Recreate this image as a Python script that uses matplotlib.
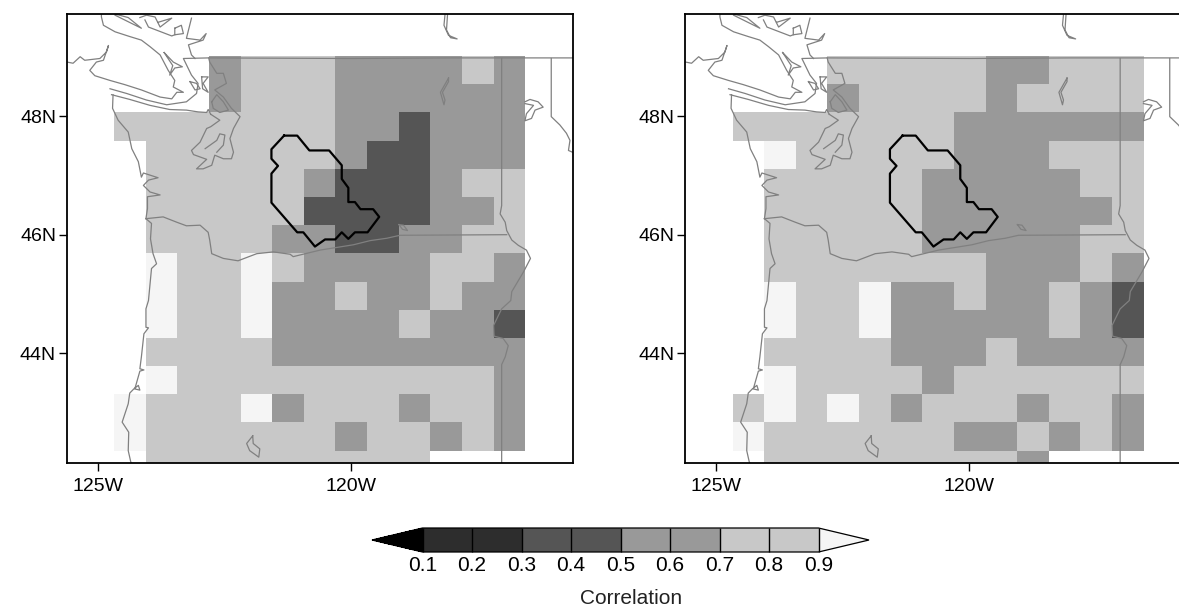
import numpy as np
import matplotlib
matplotlib.use("Agg")
import matplotlib.pyplot as plt
from matplotlib.colors import from_levels_and_colors

plt.rcParams['font.family'] = ['Liberation Sans', 'DejaVu Sans']

n = float('nan')

levels = [0.1, 0.2, 0.3, 0.4, 0.5, 0.6, 0.7, 0.8, 0.9]
shades = ['#000000', '#2d2d2d', '#2d2d2d', '#555555', '#555555', '#999999', '#999999',
          '#c8c8c8', '#c8c8c8', '#f5f5f5']
lon_ticks = [-125, -120]
lon_labels = ['125W', '120W']
lat_ticks = [44, 46, 48]
lat_labels = ['44N', '46N', '48N']

# cell edges of the grid
lon_edges = -124.68 + 0.625*np.arange(14)
lat_edges = 49.01 - 0.475*np.arange(16)

corr_left = [
    [n, n, n, .6, .8, .8, .8, .6, .6, .6, .6, .8, .6],
    [n, n, n, .6, .8, .8, .8, .6, .6, .6, .6, .6, .6],
    [.8, .8, .8, .8, .8, .8, .8, .6, .6, .4, .6, .6, .6],
    [n, .8, .8, .8, .8, .8, .8, .6, .4, .4, .6, .6, .6],
    [n, .8, .8, .8, .8, .8, .6, .4, .4, .4, .6, .8, .8],
    [n, .8, .8, .8, .8, .8, .4, .4, .4, .4, .6, .6, .8],
    [n, .8, .8, .8, .8, .6, .6, .4, .4, .6, .6, .8, .8],
    [n, .95, .8, .8, .95, .8, .6, .6, .6, .6, .8, .8, .6],
    [n, .95, .8, .8, .95, .6, .6, .8, .6, .6, .8, .6, .6],
    [n, .95, .8, .8, .95, .6, .6, .6, .6, .8, .6, .6, .4],
    [n, .8, .8, .8, .8, .6, .6, .6, .6, .6, .6, .6, .6],
    [n, .95, .8, .8, .8, .8, .8, .8, .8, .8, .8, .8, .6],
    [.95, .8, .8, .8, .95, .6, .8, .8, .8, .6, .8, .8, .6],
    [.95, .8, .8, .8, .8, .8, .8, .6, .8, .8, .6, .8, .6],
    [n, .8, .8, .8, .8, .8, .8, .8, .8, .8, n, n, n],
]

corr_right = [
    [n, n, n, .8, .8, .8, .8, .8, .6, .6, .8, .8, .8],
    [n, n, n, .6, .8, .8, .8, .8, .6, .8, .8, .8, .8],
    [.8, .8, .8, .8, .8, .8, .8, .6, .6, .6, .6, .6, .6],
    [n, .95, .8, .8, .8, .8, .8, .6, .6, .6, .8, .8, .8],
    [n, .8, .8, .8, .8, .8, .6, .6, .6, .6, .6, .8, .8],
    [n, .8, .8, .8, .8, .8, .6, .6, .6, .6, .6, .6, .8],
    [n, .8, .8, .8, .8, .8, .6, .6, .6, .6, .6, .8, .8],
    [n, .8, .8, .8, .8, .8, .8, .8, .6, .6, .6, .8, .6],
    [n, .95, .8, .8, .95, .6, .6, .8, .6, .6, .8, .6, .4],
    [n, .95, .8, .8, .95, .6, .6, .6, .6, .6, .8, .6, .4],
    [n, .8, .8, .8, .8, .6, .6, .6, .8, .6, .6, .6, .6],
    [n, .95, .8, .8, .8, .8, .6, .8, .8, .8, .8, .8, .8],
    [.8, .95, .8, .95, .8, .6, .8, .8, .8, .6, .8, .8, .6],
    [.95, .8, .8, .8, .8, .8, .8, .6, .6, .8, .6, .8, .6],
    [n, .8, .8, .8, .8, .8, .8, .8, .8, .6, n, n, n],
]

# basin outline, lon/lat
basin = [(-121.32, 47.67), (-121.06, 47.67), (-120.82, 47.42), (-120.43, 47.42), (-120.18, 47.17),
         (-120.18, 46.94), (-120.05, 46.79), (-120.05, 46.55), (-119.92, 46.55), (-119.81, 46.43),
         (-119.56, 46.43), (-119.44, 46.30), (-119.67, 46.04), (-119.92, 46.04), (-120.05, 45.93),
         (-120.18, 46.04), (-120.31, 45.92), (-120.51, 45.92), (-120.71, 45.80), (-120.94, 46.04),
         (-121.06, 46.04), (-121.57, 46.54), (-121.57, 47.03), (-121.44, 47.16), (-121.57, 47.28),
         (-121.57, 47.44), (-121.32, 47.67)]

# coast, borders and lakes, lon/lat
vancouver = [(-124.93, 49.75), (-124.93, 49.67), (-124.89, 49.53), (-124.66, 49.42), (-124.37, 49.34),
             (-124.14, 49.28), (-123.97, 49.17), (-123.77, 49.03), (-123.61, 48.77), (-123.48, 48.60),
             (-123.51, 48.49), (-123.31, 48.40), (-123.44, 48.40), (-123.54, 48.29), (-123.77, 48.32),
             (-124.14, 48.44), (-124.47, 48.53), (-124.76, 48.60), (-125.06, 48.68), (-125.16, 48.77),
             (-125.03, 48.91), (-124.89, 48.94), (-124.79, 49.19), (-124.83, 49.08), (-124.96, 48.97),
             (-125.26, 48.94), (-125.35, 49.00), (-125.49, 48.89), (-125.61, 48.91)]
strait = [(-124.76, 48.46), (-124.43, 48.38), (-124.04, 48.27), (-123.64, 48.19), (-123.25, 48.24),
          (-123.05, 48.38), (-123.02, 48.55), (-123.15, 48.69), (-123.31, 48.97), (-122.81, 48.98),
          (-120.0, 48.97), (-118.0, 48.98), (-115.6, 48.98)]
olympic = [(-124.73, 48.36), (-124.37, 48.28), (-123.97, 48.18), (-123.58, 48.11), (-123.25, 48.10),
           (-123.02, 48.07), (-122.85, 48.06), (-122.82, 48.11), (-122.77, 48.03)]
wa_coast = [(-124.70, 48.36), (-124.71, 48.13), (-124.60, 47.93), (-124.40, 47.73), (-124.33, 47.45),
            (-124.20, 47.23), (-124.14, 46.97), (-124.10, 47.04), (-123.81, 46.96), (-124.00, 46.92),
            (-124.10, 46.83), (-123.97, 46.72), (-123.77, 46.67), (-124.02, 46.64), (-124.02, 46.44),
            (-124.05, 46.27)]
columbia = [(-124.05, 46.27), (-123.71, 46.30), (-123.44, 46.21), (-123.25, 46.15), (-122.98, 46.16),
            (-122.82, 46.04), (-122.79, 45.91), (-122.75, 45.68), (-122.52, 45.60), (-122.23, 45.56),
            (-121.86, 45.68), (-121.53, 45.71), (-121.20, 45.67), (-121.14, 45.63), (-120.61, 45.74),
            (-119.95, 45.83), (-119.62, 45.90), (-119.29, 45.94), (-119.03, 45.99), (-116.92, 46.00)]
or_coast = [(-124.05, 46.27), (-123.94, 46.19), (-123.96, 45.93), (-123.91, 45.68), (-123.84, 45.51),
            (-123.94, 45.43), (-124.00, 44.89), (-124.05, 44.75), (-124.05, 44.44), (-124.00, 44.43),
            (-124.09, 44.33), (-124.14, 43.94), (-124.17, 43.74), (-124.09, 43.72), (-124.17, 43.70),
            (-124.27, 43.40), (-124.17, 43.38), (-124.20, 43.46), (-124.29, 43.40), (-124.37, 43.33),
            (-124.40, 43.15), (-124.52, 42.84), (-124.39, 42.67), (-124.40, 42.36), (-124.35, 42.17),
            (-124.30, 42.10)]
idaho = [(-117.02, 48.97), (-117.02, 46.49), (-117.05, 46.35), (-116.95, 46.21), (-116.92, 46.07),
         (-116.82, 45.91), (-116.69, 45.82), (-116.53, 45.74), (-116.45, 45.60), (-116.59, 45.37),
         (-116.82, 45.04), (-116.84, 44.89), (-117.02, 44.75), (-117.18, 44.47), (-117.17, 44.29),
         (-116.99, 44.25), (-116.89, 44.13), (-116.95, 43.94), (-117.02, 43.81), (-117.02, 42.00)]
montana = [(-116.04, 48.97), (-116.04, 47.99), (-115.87, 47.85), (-115.74, 47.71), (-115.67, 47.59),
           (-115.70, 47.42), (-115.62, 47.39)]
puget = [(-122.81, 48.98), (-122.79, 48.91), (-122.65, 48.72), (-122.52, 48.72), (-122.46, 48.55),
         (-122.69, 48.44), (-122.52, 48.32), (-122.36, 48.13), (-122.19, 47.99), (-122.32, 47.79),
         (-122.39, 47.62), (-122.32, 47.39), (-122.36, 47.28), (-122.52, 47.28), (-122.69, 47.34),
         (-122.75, 47.17), (-122.92, 47.11), (-123.05, 47.11), (-122.85, 47.27), (-123.11, 47.35),
         (-123.15, 47.42), (-122.98, 47.56), (-122.85, 47.79), (-122.77, 47.82), (-122.59, 47.93),
         (-122.77, 48.03)]
hood = [(-122.88, 47.45), (-122.65, 47.59), (-122.59, 47.70), (-122.49, 47.68), (-122.52, 47.51),
        (-122.65, 47.39)]
whidbey = [(-122.75, 48.24), (-122.65, 48.36), (-122.52, 48.24), (-122.42, 48.10), (-122.59, 48.06),
           (-122.72, 48.13), (-122.75, 48.24)]
san_juan = [(-123.18, 48.58), (-123.05, 48.55), (-122.98, 48.46), (-123.08, 48.44), (-123.18, 48.58)]
orcas = [(-122.95, 48.66), (-122.82, 48.66), (-122.92, 48.55), (-122.82, 48.40), (-122.93, 48.46),
         (-122.95, 48.66)]
gulf = [(-123.69, 49.07), (-123.51, 48.91), (-123.33, 48.83), (-123.48, 48.81), (-123.58, 48.69),
        (-123.52, 48.85), (-123.69, 49.07)]
texada = [(-124.66, 49.70), (-124.33, 49.56), (-124.14, 49.48), (-124.40, 49.66), (-124.66, 49.72)]
mainland = [(-124.17, 49.66), (-124.04, 49.70), (-123.87, 49.67), (-123.77, 49.50), (-123.54, 49.65),
            (-123.81, 49.58)]
sunshine = [(-124.07, 49.62), (-124.00, 49.50), (-123.54, 49.35), (-123.48, 49.37)]
bowen = [(-123.48, 49.48), (-123.35, 49.53), (-123.31, 49.39), (-123.48, 49.37), (-123.48, 49.48)]
howe = [(-123.15, 49.65), (-123.25, 49.31), (-122.98, 49.28), (-122.86, 49.39), (-122.92, 49.28),
        (-123.21, 49.20), (-123.15, 49.03), (-123.08, 48.97)]
kootenay = [(-118.14, 49.80), (-118.14, 49.71), (-118.16, 49.53), (-118.07, 49.36), (-117.90, 49.30),
            (-118.03, 49.32), (-118.11, 49.45), (-118.09, 49.71), (-118.09, 49.80)]
roosevelt = [(-118.07, 48.64), (-118.23, 48.40), (-118.16, 48.19), (-118.14, 48.27), (-118.19, 48.40),
             (-118.07, 48.58), (-118.07, 48.64)]
pend_oreille = [(-116.56, 48.24), (-116.46, 48.28), (-116.30, 48.24), (-116.20, 48.15), (-116.36, 48.10),
                (-116.43, 47.96), (-116.56, 47.92), (-116.53, 48.04), (-116.39, 48.18), (-116.56, 48.21)]
snake_lake = [(-119.05, 46.17), (-118.96, 46.16), (-118.88, 46.07), (-118.98, 46.09), (-119.05, 46.17)]
klamath = [(-121.94, 42.61), (-122.06, 42.48), (-122.00, 42.36), (-121.82, 42.25), (-121.80, 42.39),
           (-121.93, 42.48), (-121.94, 42.61)]

map_lines = [vancouver, strait, olympic, wa_coast, columbia, or_coast, idaho, montana, puget, hood,
             whidbey, san_juan, orcas, gulf, texada, mainland, sunshine, bowen, howe, kootenay,
             roosevelt, pend_oreille, snake_lake, klamath]

cmap, norm = from_levels_and_colors(levels, shades, extend='both')

W, H = 1179.0, 606.0
fig = plt.figure(figsize=(W/100, H/100), dpi=100)


def draw_panel(left_px, corr):
    ax = fig.add_axes([left_px/W, (H-462.5)/H, 506/W, 448.5/H])
    mesh = ax.pcolormesh(lon_edges, lat_edges, np.ma.masked_invalid(corr), cmap=cmap, norm=norm,
                         antialiased=False, linewidth=0)
    for seg in map_lines:
        pts = np.array(seg)
        ax.plot(pts[:, 0], pts[:, 1], color='#808080', lw=0.9)
    pts = np.array(basin)
    ax.plot(pts[:, 0], pts[:, 1], color='black', lw=1.6)
    ax.set_xlim(-125.62, -115.62)
    ax.set_ylim(42.16, 49.72)
    ax.set_xticks(lon_ticks)
    ax.set_xticklabels(lon_labels)
    ax.set_yticks(lat_ticks)
    ax.set_yticklabels(lat_labels)
    ax.tick_params(length=6, width=1, labelsize=14)
    ax.tick_params(axis='x', pad=5)
    ax.tick_params(axis='y', pad=1.5)
    for s in ax.spines.values():
        s.set_linewidth(1.3)
    return mesh


mesh = draw_panel(66.5, corr_left)
draw_panel(685, corr_right)

cax = fig.add_axes([372/W, (H-552)/H, 497/W, 24/H])
cb = fig.colorbar(mesh, cax=cax, orientation='horizontal', extend='both', extendfrac=50.5/396.0,
                  drawedges=True, ticks=levels, spacing='uniform')
cb.set_ticklabels(['%.1f' % v for v in levels])
cb.ax.tick_params(length=0, labelsize=15, pad=3)
cb.outline.set_linewidth(0.9)
cb.dividers.set_linewidth(1.0)
cb.dividers.set_color('black')

fig.text(631/W, 1-598/H, 'Correlation', ha='center', va='center', fontsize=15, color='#222222')

fig.savefig('out.png', dpi=100)
